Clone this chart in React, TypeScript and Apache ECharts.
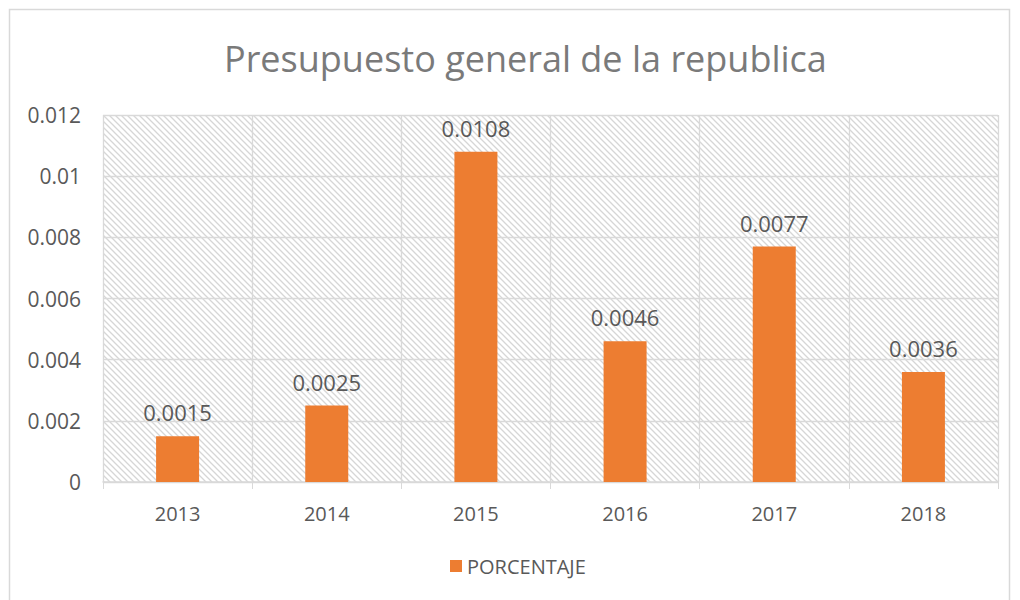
import React, { useEffect, useRef } from "react";
import * as echarts from "echarts";

const titleText = "Presupuesto general de la republica";
const categories = ["2013", "2014", "2015", "2016", "2017", "2018"];
const seriesName = "PORCENTAJE";
const values = [0.0015, 0.0025, 0.0108, 0.0046, 0.0077, 0.0036];
const yMin = 0;
const yMax = 0.012;
const yStep = 0.002;

const hatchSvg =
  "data:image/svg+xml;utf8," +
  encodeURIComponent(
    '<svg xmlns="http://www.w3.org/2000/svg" width="6" height="6">' +
      '<rect width="6" height="6" fill="#ffffff"/>' +
      '<path d="M-1,-1 L7,7 M-1,5 L1,7 M5,-1 L7,1" stroke="#d6d6d6" stroke-width="1.3"/>' +
      "</svg>"
  );

export default function App() {
  const ref = useRef<HTMLDivElement>(null);
  useEffect(() => {
    if (!ref.current) return;
    const chart = echarts.init(ref.current, undefined, { renderer: "svg" });
    const img = new Image();
    img.src = hatchSvg;
    chart.setOption({
      animation: false,
      backgroundColor: "#ffffff",
      textStyle: { fontFamily: "Open Sans" },
      title: {
        text: titleText,
        left: 219,
        top: 35,
        textStyle: {
          fontFamily: "Open Sans",
          fontSize: 36,
          fontWeight: "normal",
          color: "#7a7a7a",
        },
      },
      graphic: [
        {
          type: "rect",
          shape: { x: 9.5, y: 9.5, width: 1000, height: 600 },
          style: { fill: "none", stroke: "#d9d9d9", lineWidth: 1.5 },
          silent: true,
          z: -1,
        },
      ],
      legend: {
        bottom: 19,
        left: 445,
        itemWidth: 12,
        itemHeight: 12,
        icon: "rect",
        itemGap: 8,
        textStyle: { fontSize: 20, color: "#595959", fontFamily: "Open Sans" },
        data: [seriesName],
      },
      grid: {
        left: 103,
        right: 22,
        top: 115,
        bottom: 118,
        show: true,
        borderWidth: 0,
        backgroundColor: { image: img, repeat: "repeat" } as any,
      },
      xAxis: {
        type: "category",
        data: categories,
        axisLine: { show: true, lineStyle: { color: "#d9d9d9", width: 1.5 } },
        axisTick: { show: true, length: 7, lineStyle: { color: "#d9d9d9" } },
        splitLine: { show: true, lineStyle: { color: "#d9d9d9", width: 1.3 } },
        axisLabel: { fontSize: 20, color: "#595959", margin: 21, fontFamily: "Open Sans" },
      },
      yAxis: {
        type: "value",
        min: yMin,
        max: yMax,
        interval: yStep,
        axisLine: { show: false },
        axisTick: { show: false },
        splitLine: { show: true, lineStyle: { color: "#d9d9d9", width: 1.3 } },
        axisLabel: { fontSize: 21, color: "#595959", margin: 22, fontFamily: "Open Sans" },
      },
      series: [
        {
          name: seriesName,
          type: "bar",
          data: values,
          barWidth: 43,
          itemStyle: { color: "#ED7D31" },
          label: {
            show: true,
            position: "top",
            distance: 13,
            fontSize: 22,
            color: "#595959",
            fontFamily: "Open Sans",
          },
        },
      ],
    });
    img.onload = () => {
      chart.setOption({ grid: { backgroundColor: { image: img, repeat: "repeat" } as any } });
    };
    return () => chart.dispose();
  }, []);
  return (
    <div
      ref={ref}
      style={{ position: "fixed", left: 0, top: 0, width: 1020, height: 600 }}
    />
  );
}
